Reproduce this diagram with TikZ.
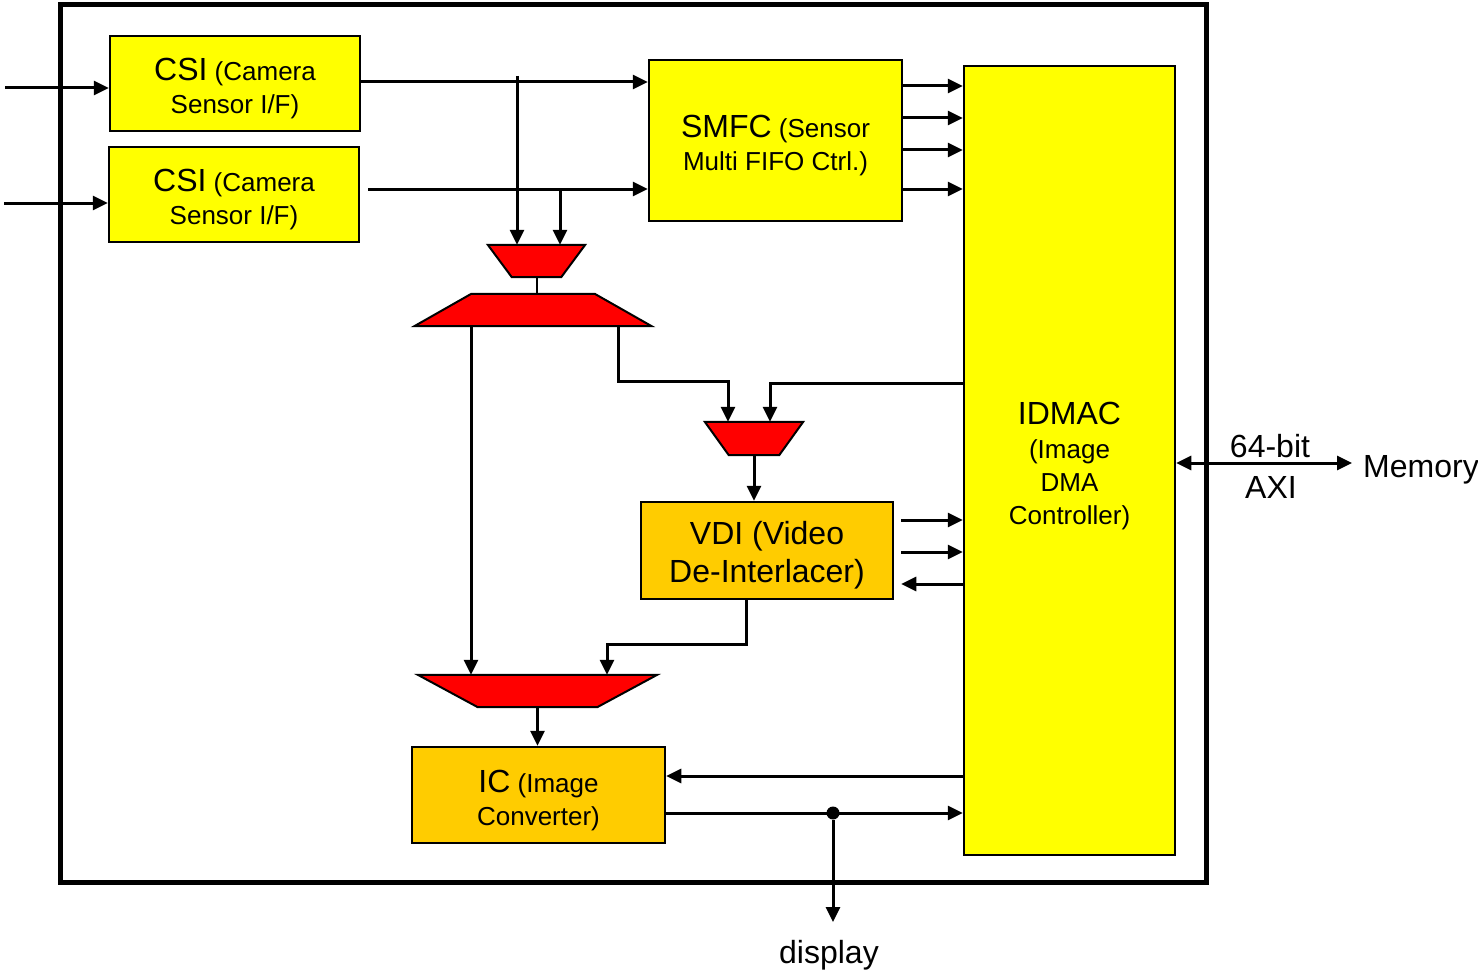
\documentclass[tikz,border=0pt]{standalone}
\usepackage{fontspec}
\setmainfont{Liberation Sans}
\usetikzlibrary{arrows.meta, positioning}
\definecolor{chipyellow}{HTML}{FFFF00}
\definecolor{chiporange}{HTML}{FFCC00}
\definecolor{muxred}{HTML}{FF0000}
\newcommand{\bigtxt}{\fontsize{32}{36}\selectfont}
\newcommand{\smltxt}{\fontsize{26}{33}\selectfont}
\newcommand{\topgap}{\rule{0pt}{33pt}}

\begin{document}
\begin{tikzpicture}[
        x=1pt, y=-1pt,
        >={Triangle[length=15pt,width=14pt]},
        box/.style={
            draw,
            line width=2.5pt,
            inner sep=0pt,
            align=center,
            font=\smltxt
        },
        muxbox/.style={inner sep=0pt, minimum height=32},
        muxfill/.style={draw, fill=muxred, line width=2pt, line join=miter},
        arr/.style={
            ->,
            line width=3pt
        },
        lbl/.style={font=\bigtxt},
        dot/.style={circle, fill, inner sep=0pt, minimum size=13pt}
    ]
        \useasboundingbox (0,0) rectangle (1478,971);

        % chip frame
        \draw[line width=5pt] (60,5) rectangle (1206,882);

        \node[box, fill=chipyellow, minimum width=250, minimum height=95] (csi1) at (235,83.5)
            {\topgap{\bigtxt CSI} (Camera\\Sensor I/F)};
        \node[box, fill=chipyellow, minimum width=250, minimum height=95] (csi2) at (234,194.5)
            {\topgap{\bigtxt CSI} (Camera\\Sensor I/F)};
        \node[box, fill=chipyellow, minimum width=253, minimum height=161] (smfc) at (775.5,140.5)
            {\topgap{\bigtxt SMFC} (Sensor\\Multi FIFO Ctrl.)};
        \node[box, fill=chipyellow, minimum width=211, minimum height=789] (idmac) at (1069.5,460.5)
            {\topgap{\bigtxt IDMAC}\\[1pt](Image\\DMA\\Controller)};
        \node[box, fill=chiporange, minimum width=252, minimum height=97,
              font=\fontsize{32}{38}\selectfont] (vdi) at (767,550.5)
            {\topgap VDI (Video\\De-Interlacer)};
        \node[box, fill=chiporange, minimum width=253, minimum height=96] (ic) at (538.5,795)
            {\topgap{\bigtxt IC} (Image\\Converter)};

        % multiplexers
        \node[muxbox, minimum width=97] (mux1) at (536.5,261) {};
        \node[muxbox, minimum width=237] (mux2) at (533,310) {};
        \node[muxbox, minimum width=98, minimum height=33] (mux3) at (754,438.5) {};
        \node[muxbox, minimum width=239] (mux4) at (537.5,691) {};
        \draw[muxfill] (mux1.north west) -- (mux1.north east) -- ([xshift=-24pt]mux1.south east)
            -- ([xshift=24pt]mux1.south west) -- cycle;
        \draw[muxfill] ([xshift=57pt]mux2.north west) -- ([xshift=-57pt]mux2.north east)
            -- (mux2.south east) -- (mux2.south west) -- cycle;
        \draw[muxfill] (mux3.north west) -- (mux3.north east) -- ([xshift=-24pt]mux3.south east)
            -- ([xshift=24pt]mux3.south west) -- cycle;
        \draw[muxfill] (mux4.north west) -- (mux4.north east) -- ([xshift=-60pt]mux4.south east)
            -- ([xshift=60pt]mux4.south west) -- cycle;

        % sensor inputs
        \coordinate (in1) at (5,88);
        \coordinate (in2) at (4,203);
        \coordinate (t1) at (517,76);
        \coordinate (t2) at (560,189);
        \coordinate (c2) at (368,189);
        \draw[arr] (in1) -- (in1 -| csi1.west);
        \draw[arr] (in2) -- (in2 -| csi2.west);
        \draw[arr] (csi1.east |- 0,82) -- (smfc.west |- 0,82);
        \draw[arr] (c2) -- (c2 -| smfc.west);
        \draw[arr] (t1) -- (t1 |- mux1.north);
        \draw[arr] (t2) -- (t2 |- mux1.north);
        \draw[line width=2pt] (mux1.south) -- (mux1.south |- mux2.north);

        % mux paths
        \draw[arr] (471,0 |- mux2.south) -- (471,0 |- mux4.north);
        \draw[arr] (618,0 |- mux2.south) |- (728,381) -- (728,0 |- mux3.north);
        \draw[arr] (idmac.west |- 0,383) -| (770,0 |- mux3.north);
        \draw[arr] (mux3.south) -- (mux3.south |- vdi.north);
        \draw[arr] (746,0 |- vdi.south) |- (607,644) -- (607,0 |- mux4.north);
        \draw[arr] (mux4.south) -- (mux4.south |- ic.north);

        % to and from IDMAC
        \foreach \y in {86,118,150,189}
            \draw[arr] (smfc.east |- 0,\y) -- (idmac.west |- 0,\y);
        \foreach \y in {520,552}
            \draw[arr] ([xshift=7pt]vdi.east |- 0,\y) -- (idmac.west |- 0,\y);
        \draw[arr] (idmac.west |- 0,584) -- ([xshift=7pt]vdi.east |- 0,584);
        \draw[arr] (idmac.west |- 0,776) -- (ic.east |- 0,776);
        \node[dot] (split) at (833,813) {};
        \draw[arr] (ic.east |- 0,813) -- (idmac.west |- 0,813);

        % outputs
        \node[lbl, anchor=north] (display) at (829,937) {display};
        \draw[arr] (split) -- ([yshift=15pt]split |- display.north);
        \coordinate (memtip) at (1352,463);
        \node[lbl, anchor=west, inner sep=0pt] (memory) at (1363,470) {Memory};
        \draw[<->, line width=3pt] (idmac.east |- memtip) -- (memtip);
        \node[lbl] (bus) at (1270,446) {64-bit};
        \node[lbl] (axi) at (1271,487) {AXI};

    \end{tikzpicture}
\end{document}
